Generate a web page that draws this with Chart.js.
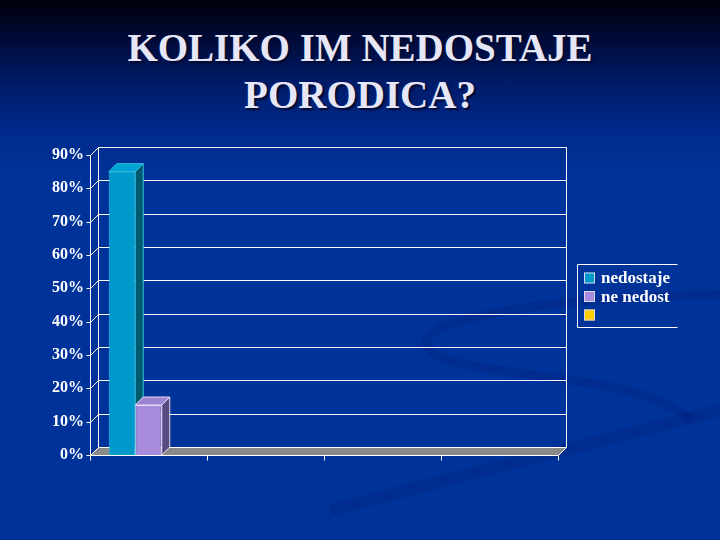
<!DOCTYPE html>
<html>
<head>
<meta charset="utf-8">
<script src="https://cdn.jsdelivr.net/npm/chart.js@4.4.1/dist/chart.umd.min.js"></script>
<style>
    html, body {
        margin: 0;
        padding: 0;
        width: 720px;
        height: 540px;
        overflow: hidden;
    }
    body {
        position: relative;
        background: linear-gradient(to bottom, #00000c 0%, #000c3c 8%, #001c6c 16%, #002a8c 24%, #003399 34%, #003399 100%);
    }
    #swoosh {
        position: absolute;
        left: 0;
        top: 0;
    }
    #title {
        position: absolute;
        left: 0;
        top: 24px;
        width: 720px;
        text-align: center;
        font-family: "Liberation Serif", "Times New Roman", serif;
        font-weight: bold;
        font-size: 39px;
        line-height: 47px;
        color: #e6e6f6;
        text-shadow: 2px 2px 2px #000a30;
    }
    #chart {
        position: absolute;
        left: 0;
        top: 0;
    }
</style>
</head>
<body>
<svg id="swoosh" width="720" height="540">
    <path d="M720 295 C 560 295, 400 320, 430 350 C 460 380, 640 370, 690 420" fill="none" stroke="rgba(0,25,110,0.22)" stroke-width="9"/>
    <path d="M330 510 C 450 480, 600 440, 720 410" fill="none" stroke="rgba(0,25,110,0.22)" stroke-width="12"/>
</svg>
<div id="title">KOLIKO IM NEDOSTAJE<br>PORODICA?</div>
<canvas id="chart" width="720" height="540"></canvas>
<script>
const categories = ["", "", "", ""];
const nedostaje = [85, null, null, null];
const neNedost = [15, null, null, null];
const bezOdgovora = [0, null, null, null];
const seriesLabels = ["nedostaje", "ne nedost", ""];
const yMax = 90;
const yStep = 10;

const frontColors = ["#0099cc", "#a98bdb", "#ffcc00"];
const topColors = ["#00a4d4", "#9c84d0", "#ffd633"];
const sideColors = ["#005a6e", "#5a4a82", "#a08000"];
const edgeColors = ["#33c0e0", "#e4dcf4", "#ffe680"];

const DX = 8, DY = -8;
const serif = "'Liberation Serif', 'Times New Roman', serif";

function line(ctx, x1, y1, x2, y2) {
    ctx.beginPath();
    ctx.moveTo(x1, y1);
    ctx.lineTo(x2, y2);
    ctx.stroke();
}

function poly(ctx, pts, fill, stroke) {
    ctx.beginPath();
    ctx.moveTo(pts[0][0], pts[0][1]);
    for (let p of pts.slice(1)) ctx.lineTo(p[0], p[1]);
    ctx.closePath();
    ctx.fillStyle = fill;
    ctx.fill();
    if (stroke) {
        ctx.strokeStyle = stroke;
        ctx.stroke();
    }
}

const frame3d = {
    id: "frame3d",
    beforeDatasetsDraw(chart) {
        const ctx = chart.ctx;
        const a = chart.chartArea;
        const y = chart.scales.y;
        const x = chart.scales.x;
        const L = Math.round(a.left) + 0.5;
        const R = Math.round(a.right) + 0.5;
        const B = Math.round(a.bottom) + 0.5;
        ctx.save();
        ctx.lineWidth = 1;

        // floor
        poly(ctx, [[L, B], [R, B], [R + DX, B + DY], [L + DX, B + DY]], "#8a8a8a");

        ctx.strokeStyle = "#ffffff";
        // back wall gridlines + diagonal connectors + small ticks
        for (let t of y.ticks) {
            const fy = Math.round(y.getPixelForValue(t.value)) + 0.5;
            line(ctx, L + DX, fy + DY, R + DX, fy + DY);
            line(ctx, L, fy, L + DX, fy + DY);
            line(ctx, L - 4, fy, L, fy);
        }
        const topY = Math.round(y.getPixelForValue(yMax)) + 0.5;
        line(ctx, L + DX, topY + DY, L + DX, B + DY);
        line(ctx, R + DX, topY + DY, R + DX, B + DY);
        // front axis and floor edge
        line(ctx, L, topY, L, B);
        line(ctx, L, B, R, B);
        line(ctx, R, B, R + DX, B + DY);
        // category ticks
        const n = categories.length;
        for (let i = 0; i <= n; i++) {
            const px = Math.round(x.left + i * (x.right - x.left) / n) + 0.5;
            line(ctx, px, B, px, B + 5);
        }

        // bar depth faces
        chart.data.datasets.forEach((ds, di) => {
            const meta = chart.getDatasetMeta(di);
            meta.data.forEach((bar, i) => {
                if (!ds.data[i]) return;
                const l = bar.x - bar.width / 2;
                const r = bar.x + bar.width / 2;
                const t = bar.y;
                const b = bar.base;
                poly(ctx, [[r, t], [r + DX, t + DY], [r + DX, b + DY], [r, b]], sideColors[di], edgeColors[di]);
                poly(ctx, [[l, t], [r, t], [r + DX, t + DY], [l + DX, t + DY]], topColors[di], edgeColors[di]);
            });
        });
        ctx.restore();
    },
    afterDraw(chart) {
        // legend with box
        const ctx = chart.ctx;
        const bx = 577.5, by = 264.5, bw = 100, bh = 63;
        ctx.save();
        ctx.strokeStyle = "#ffffff";
        ctx.lineWidth = 1;
        line(ctx, bx + bw, by, bx, by);
        line(ctx, bx, by, bx, by + bh);
        line(ctx, bx, by + bh, bx + bw, by + bh);
        ctx.font = "bold 17px " + serif;
        ctx.textBaseline = "middle";
        chart.data.datasets.forEach((ds, i) => {
            const cy = 278 + i * 18.5;
            ctx.fillStyle = ds.backgroundColor;
            ctx.fillRect(584, cy - 5.5, 11, 11);
            ctx.strokeStyle = "#d8d8e8";
            ctx.strokeRect(584.5, cy - 5, 10, 10);
            ctx.fillStyle = "#ffffff";
            ctx.fillText(ds.label, 601, cy + 1);
        });
        ctx.restore();
    }
};

const datasets = [nedostaje, neNedost, bezOdgovora].map((values, i) => ({
    label: seriesLabels[i],
    data: values,
    backgroundColor: frontColors[i],
    borderColor: edgeColors[i],
    borderWidth: 1,
    categoryPercentage: 0.68,
    barPercentage: 1
}));

new Chart(document.getElementById("chart"), {
    type: "bar",
    data: { labels: categories, datasets: datasets },
    options: {
        responsive: false,
        animation: false,
        layout: { padding: { left: 0, top: 155, right: 162, bottom: 85 } },
        plugins: {
            legend: { display: false },
            title: { display: false },
            tooltip: { enabled: false }
        },
        scales: {
            x: { display: false },
            y: {
                min: 0,
                max: yMax,
                afterFit: s => { s.width = 90; },
                grid: { display: false, drawTicks: false },
                border: { display: false },
                ticks: {
                    stepSize: yStep,
                    padding: 6,
                    color: "#ffffff",
                    font: { family: serif, size: 16, weight: "bold" },
                    callback: v => v + "%"
                }
            }
        }
    },
    plugins: [frame3d]
});
</script>
</body>
</html>
